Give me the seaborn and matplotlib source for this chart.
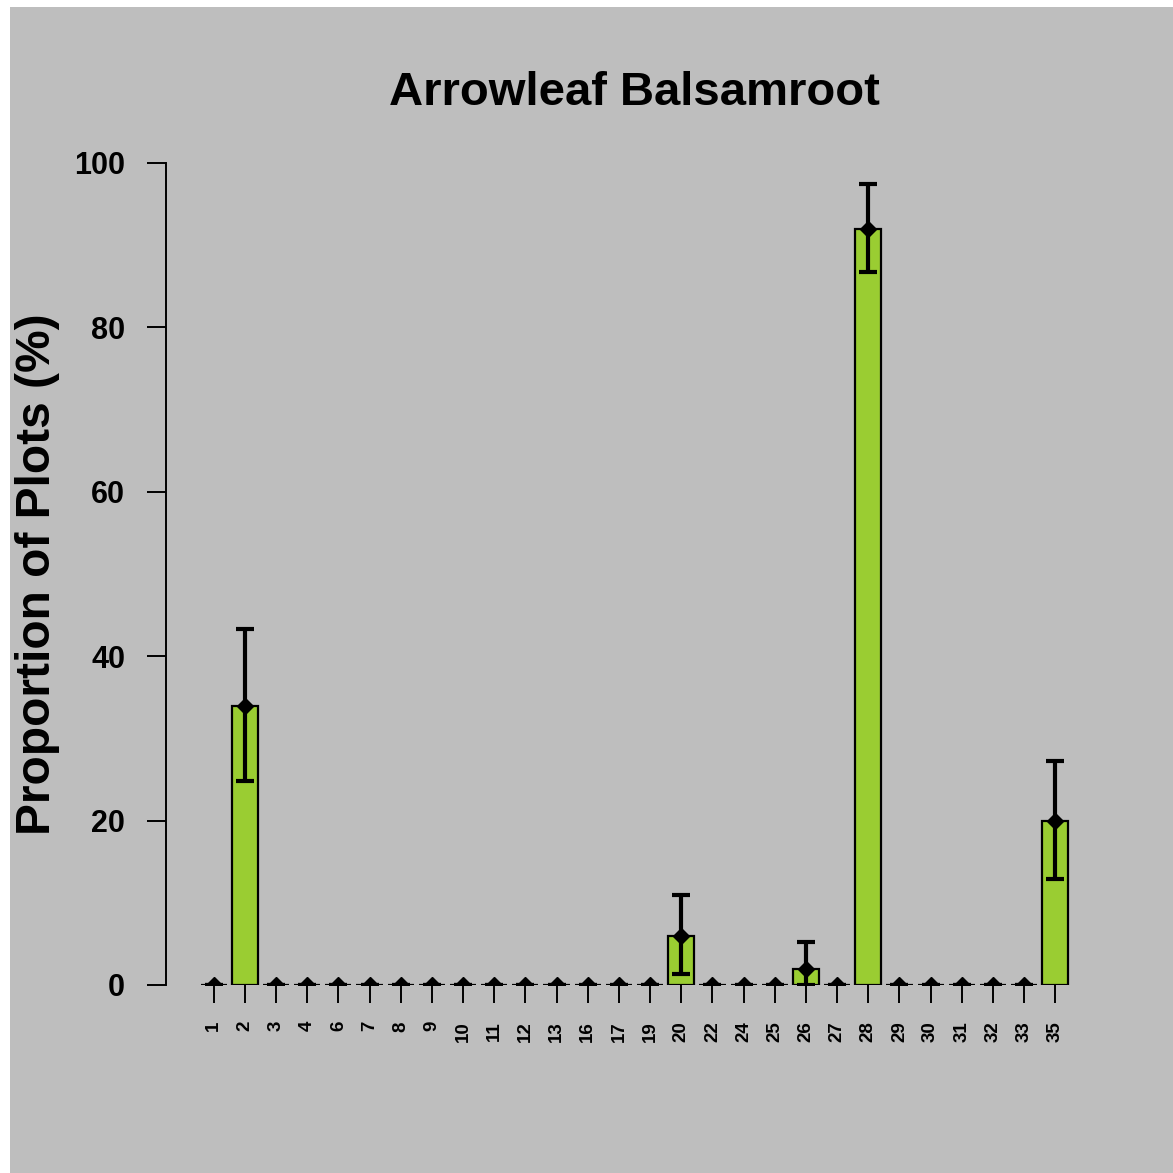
import matplotlib
matplotlib.use("Agg")
import matplotlib.pyplot as plt
import seaborn as sns
import numpy as np
import pandas as pd
from matplotlib.patches import Rectangle

# ---- data ----
sites = ["1", "2", "3", "4", "6", "7", "8", "9", "10", "11", "12", "13", "16", "17",
         "19", "20", "22", "24", "25", "26", "27", "28", "29", "30", "31", "32", "33", "35"]
proportion = [0, 34, 0, 0, 0, 0, 0, 0, 0, 0, 0, 0, 0, 0,
              0, 6, 0, 0, 0, 2, 0, 92, 0, 0, 0, 0, 0, 20]
err_low = [0, 24.8, 0, 0, 0, 0, 0, 0, 0, 0, 0, 0, 0, 0,
           0, 1.3, 0, 0, 0, 0, 0, 86.7, 0, 0, 0, 0, 0, 12.9]
err_high = [0, 43.3, 0, 0, 0, 0, 0, 0, 0, 0, 0, 0, 0, 0,
            0, 10.9, 0, 0, 0, 5.2, 0, 97.4, 0, 0, 0, 0, 0, 27.3]
y_ticks = [0, 20, 40, 60, 80, 100]

df = pd.DataFrame({"site": sites, "prop": proportion})

sns.set_theme(style="ticks")
plt.rcParams["font.family"] = ["Liberation Sans", "DejaVu Sans"]
plt.rcParams["font.weight"] = "bold"
plt.rcParams["text.color"] = "black"
plt.rcParams["axes.labelcolor"] = "black"
plt.rcParams["axes.titlecolor"] = "black"

W = H = 1173
fig = plt.figure(figsize=(W / 100, H / 100), dpi=100, facecolor="white")
fig.patches.append(Rectangle((10 / W, 0), 1 - 10 / W, 1 - 7 / H,
                             transform=fig.transFigure, facecolor="#BEBEBE",
                             edgecolor="none", zorder=-10))

left, right, top, bottom = 166, 1103, 163, 985
ax = fig.add_axes([left / W, 1 - bottom / H, (right - left) / W, (bottom - top) / H])
ax.set_facecolor("none")

sns.barplot(data=df, x="site", y="prop", order=sites, color="yellowgreen",
            saturation=1, edgecolor="black", linewidth=1.6, width=0.84,
            errorbar=None, ax=ax)

n = len(sites)
xpos = np.arange(n)
prop = np.array(proportion, dtype=float)
lo = prop - np.array(err_low)
hi = np.array(err_high) - prop
ax.errorbar(xpos, prop, yerr=[lo, hi], fmt="D", color="black", markersize=8,
            elinewidth=3, capsize=6.2, capthick=3, zorder=5)

ax.set_xlim(-1.53, n - 1 + 1.53)
ax.set_ylim(0, 100)
ax.set_yticks(y_ticks)
ax.set_yticklabels([str(v) for v in y_ticks], fontsize=22, fontweight="bold")
ax.set_xticks(xpos)
ax.set_xticklabels(sites, rotation=90, fontsize=13.5, fontweight="bold")

for s in ["top", "right", "bottom"]:
    ax.spines[s].set_visible(False)
ax.spines["left"].set_linewidth(1.4)
ax.spines["left"].set_color("black")
ax.tick_params(axis="y", length=13.5, width=1.4, pad=16, colors="black")
ax.tick_params(axis="x", length=13, width=1.4, pad=13, colors="black")

ax.set_xlabel("")
ax.set_ylabel("Proportion of Plots (%)", fontsize=34.5, fontweight="bold")
ax.yaxis.set_label_coords((60 - left) / (right - left), 0.5)
ax.set_title("Arrowleaf Balsamroot", fontsize=34, fontweight="bold", pad=42)

fig.savefig("out.png", dpi=100, facecolor="white")
